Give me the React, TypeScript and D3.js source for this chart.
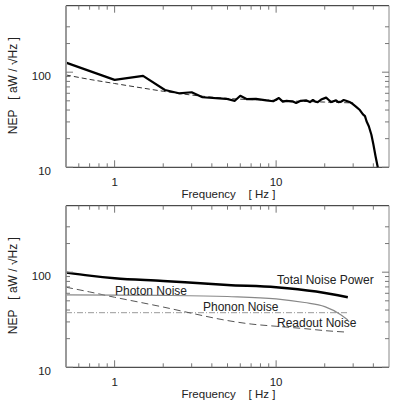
import React from 'react';
import * as d3 from 'd3';

// top panel: measured NEP and model
const measuredFreq = [0.5, 1.0, 1.5, 2.05, 2.5, 3.0, 3.5, 4.9, 5.55, 6.0, 6.6, 7.5, 8.7, 9.6, 10.4, 11.0, 11.6, 12.8, 13.3, 14.2, 15.4, 16.2, 16.9, 17.5, 18.1, 19.0, 20.4, 21.2, 21.9, 23.5, 24.3, 25.3, 26.2, 27.1, 28.5, 29.2, 31.2, 33.0, 34.5, 35.5, 36.3, 37.5, 38.9, 40.0, 41.3, 42.6];
const measuredNep = [126, 83, 91.5, 65, 60, 61.5, 54.5, 52.5, 50, 56.5, 52, 52.5, 50.5, 49.5, 53.5, 49, 50, 49, 47.5, 50, 50.5, 48.5, 51, 49, 48.5, 51.5, 54, 51, 48.5, 50.5, 48.5, 49, 51, 50, 48.5, 47.5, 43.5, 40, 36, 34.5, 30.5, 27, 22, 17.5, 13, 10];

const modelFreq = [0.5, 0.7, 1, 1.5, 2, 3, 5, 10, 20, 30];
const modelNep = [93.5, 84, 76, 68, 63, 57.5, 53, 50.5, 48.5, 47.5];

// bottom panel: noise budget
const totalFreq = [0.5, 0.7, 1, 2, 3.4, 5, 10, 17.7, 27.8];
const totalNep = [99, 92, 86.5, 81, 76.5, 73.5, 69.5, 62.5, 54.5];

const photonFreq = [0.5, 2, 5, 10, 15, 20, 25, 27.8];
const photonNep = [57.7, 57, 55.5, 52.5, 48, 43.5, 36, 31.5];

const phononFreq = [0.5, 27.8];
const phononNep = [37.5, 37.5];

const readoutFreq = [0.5, 0.7, 1, 1.5, 2, 3, 5, 7, 10, 15, 20, 27.8];
const readoutNep = [69.5, 62, 54.5, 47.5, 43, 37, 31, 28.5, 27, 25.5, 24.3, 23.4];

const xMajor = [1, 10];
const xMinor = [0.6, 0.7, 0.8, 0.9, 2, 3, 4, 5, 6, 7, 8, 9, 20, 30, 40];
const yMajor = [10, 100];
const yMinor = [20, 30, 40, 50, 60, 70, 80, 90, 200, 300];

const font = 'Liberation Sans, Arial, Helvetica, sans-serif';
const left = 66, right = 389;

function zip(fs: number[], vs: number[]) {
  return fs.map((f, i) => [f, vs[i]] as [number, number]);
}

type Series = { f: number[]; v: number[]; stroke: string; width: number; dash?: string; curve?: boolean };

function Panel({ top, series, labels }: { top: number; series: Series[]; labels?: React.ReactNode }) {
  const bottom = top + 161.6;
  const x = d3.scaleLog().domain([0.5, 50]).range([left, right]);
  const y = d3.scaleLog().domain([10, 500]).range([bottom, top]);

  return (
    <g>
      {series.map((s, i) => {
        const line = d3.line<[number, number]>()
          .x(d => x(d[0]))
          .y(d => y(d[1]))
          .curve(s.curve ? d3.curveMonotoneX : d3.curveLinear);
        return (
          <path key={i} d={line(zip(s.f, s.v)) || ''} fill="none" stroke={s.stroke}
            strokeWidth={s.width} strokeDasharray={s.dash} strokeLinejoin="round" />
        );
      })}

      {/* frame */}
      <line x1={left} x2={right} y1={top} y2={top} stroke="#222" strokeWidth={1} />
      <line x1={left} x2={right} y1={bottom} y2={bottom} stroke="#222" strokeWidth={1} />
      <line x1={right} x2={right} y1={top} y2={bottom} stroke="#888" strokeWidth={1} />
      <line x1={left} x2={left} y1={top} y2={bottom} stroke="#999" strokeWidth={2} />

      {/* x ticks, bottom and top */}
      {xMajor.concat(xMinor).map(t => {
        const len = xMajor.includes(t) ? 7 : 4;
        return (
          <g key={'x' + t} stroke="#777" strokeWidth={1}>
            <line x1={x(t)} x2={x(t)} y1={bottom} y2={bottom - len} />
            <line x1={x(t)} x2={x(t)} y1={top} y2={top + len} />
          </g>
        );
      })}
      {/* y ticks, left and right */}
      {yMajor.concat(yMinor).map(t => {
        const len = yMajor.includes(t) ? 7 : 4;
        return (
          <g key={'y' + t} stroke="#777" strokeWidth={1}>
            <line x1={left} x2={left + len} y1={y(t)} y2={y(t)} />
            <line x1={right} x2={right - len} y1={y(t)} y2={y(t)} />
          </g>
        );
      })}

      {xMajor.map(t => (
        <text key={'xl' + t} x={x(t)} y={bottom + 19} textAnchor="middle" fontSize={11.5} fontFamily={font} fill="#222">{t}</text>
      ))}
      {yMajor.map(t => (
        <text key={'yl' + t} x={51} y={y(t) + 7.5} textAnchor="end" fontSize={11.5} fontFamily={font} fill="#222">{t}</text>
      ))}

      <text x={181.5} y={bottom + 31} fontSize={11.5} fontFamily={font} fill="#222" style={{ whiteSpace: 'pre' }}>
        {'Frequency    [ Hz ]'}
      </text>
      <text transform={`translate(17,${top + 80}) rotate(-90)`} textAnchor="middle" fontSize={12}
        fontFamily={font} fill="#222" style={{ whiteSpace: 'pre' }}>
        {'NEP   [ aW / \u221AHz ]'}
      </text>
      {labels}
    </g>
  );
}

export default function App() {
  const topSeries: Series[] = [
    { f: modelFreq, v: modelNep, stroke: '#333', width: 1, dash: '5,3', curve: true },
    { f: measuredFreq, v: measuredNep, stroke: '#000', width: 2.2 },
  ];
  const bottomSeries: Series[] = [
    { f: phononFreq, v: phononNep, stroke: '#999', width: 1, dash: '6,2,1,2' },
    { f: readoutFreq, v: readoutNep, stroke: '#555', width: 1, dash: '7,4', curve: true },
    { f: photonFreq, v: photonNep, stroke: '#888', width: 1.2, curve: true },
    { f: totalFreq, v: totalNep, stroke: '#000', width: 2.5, curve: true },
  ];
  const lab = { fontSize: 12, fontFamily: font, fill: '#222' };
  const bottomLabels = (
    <g>
      <text x={277} y={284} {...lab}>Total Noise Power</text>
      <text x={115} y={294.5} {...lab}>Photon Noise</text>
      <text x={203} y={310.5} {...lab}>Phonon Noise</text>
      <text x={277} y={327} {...lab}>Readout Noise</text>
    </g>
  );
  return (
    <div style={{ position: 'absolute', left: 0, top: 0 }}>
      <svg width={395} height={402} style={{ display: 'block', background: '#fff' }}>
        <Panel top={5.7} series={topSeries} />
        <Panel top={205.7} series={bottomSeries} labels={bottomLabels} />
      </svg>
    </div>
  );
}
